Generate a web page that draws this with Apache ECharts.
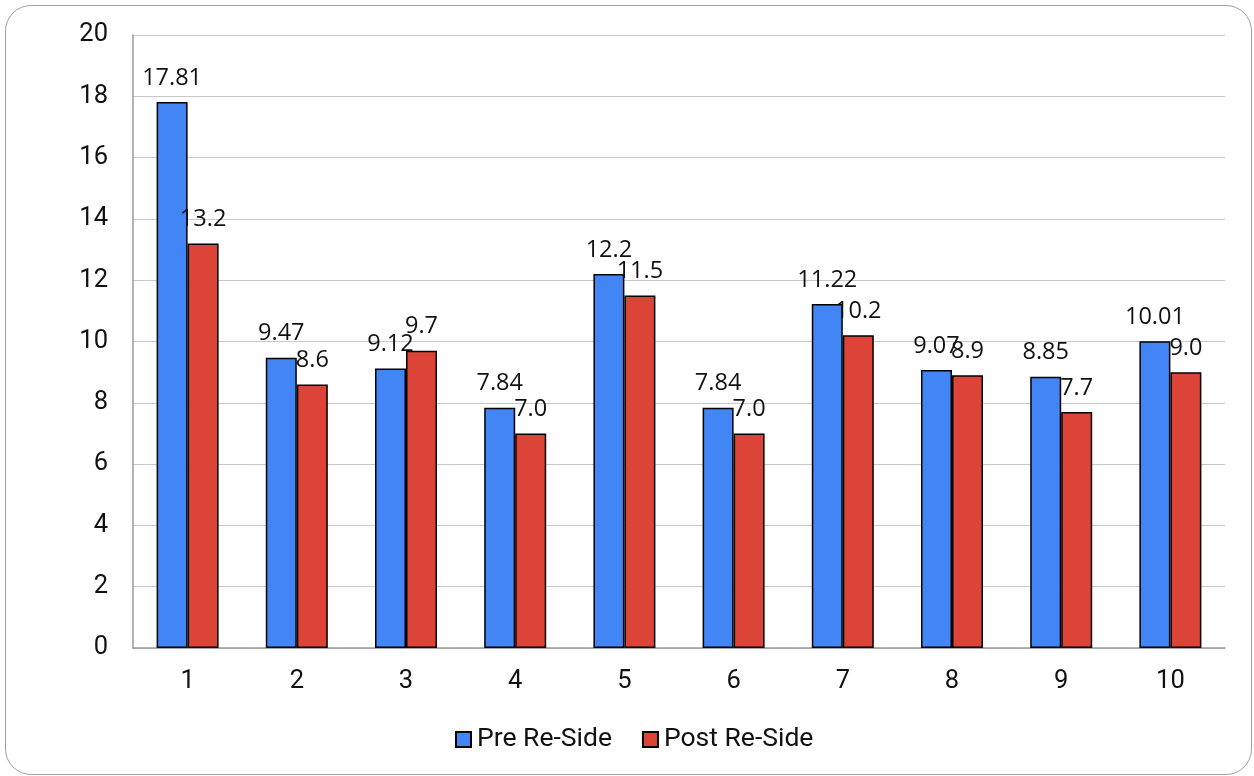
<!DOCTYPE html>
<html>
<head>
<meta charset="utf-8">
<script src="https://cdn.jsdelivr.net/npm/echarts@6/dist/echarts.min.js"></script>
<style>
  html, body { margin: 0; padding: 0; background: #fff; }
  #frame {
    position: absolute; left: 5px; top: 5px; width: 1247px; height: 770px;
    border: 1.5px solid #a0a0a0; border-radius: 26px; box-sizing: border-box;
  }
  #chart { position: absolute; left: 0; top: 0; width: 1254px; height: 776px; }
</style>
</head>
<body>
<div id="frame"></div>
<div id="chart"></div>
<script>
const categories = ['1', '2', '3', '4', '5', '6', '7', '8', '9', '10'];
const preReSide = [17.81, 9.47, 9.12, 7.84, 12.2, 7.84, 11.22, 9.07, 8.85, 10.01];
const postReSide = [13.2, 8.6, 9.7, 7.0, 11.5, 7.0, 10.2, 8.9, 7.7, 9.0];
const seriesNames = ['Pre Re-Side', 'Post Re-Side'];

const chart = echarts.init(document.getElementById('chart'), null, { renderer: 'canvas' });

const labelStyle = {
  show: true,
  position: 'top',
  distance: 12,
  color: '#111',
  fontFamily: '"Open Sans", "Noto Sans", sans-serif',
  fontSize: 23.5
};

chart.setOption({
  animation: false,
  backgroundColor: 'transparent',
  grid: { left: 133, right: 29, top: 35, bottom: 128 },
  legend: {
    bottom: 18,
    left: 450,
    icon: 'rect',
    itemWidth: 15,
    itemHeight: 15,
    itemGap: 30,
    textStyle: { fontFamily: 'Roboto', fontSize: 26.5, color: '#111', padding: [0, 0, 0, 1] },
    data: seriesNames
  },
  xAxis: {
    type: 'category',
    data: categories,
    axisLine: { lineStyle: { color: '#9a9a9a', width: 1.5 } },
    axisTick: { show: false },
    axisLabel: { fontFamily: 'Roboto', fontSize: 25.5, color: '#111', margin: 21 }
  },
  yAxis: {
    type: 'value',
    min: 0,
    max: 20,
    interval: 2,
    axisLine: { show: true, lineStyle: { color: '#9a9a9a', width: 1.5 } },
    axisTick: { show: false },
    splitLine: { lineStyle: { color: '#c8c8c8', width: 1 } },
    axisLabel: { fontFamily: 'Roboto', fontSize: 25.5, color: '#111', margin: 25 }
  },
  series: [
    {
      name: seriesNames[0],
      type: 'bar',
      data: preReSide,
      barWidth: 31,
      barGap: '0%',
      itemStyle: { color: '#4285F4', borderColor: '#000', borderWidth: 1.5 },
      label: Object.assign({}, labelStyle, { formatter: p => String(p.value) })
    },
    {
      name: seriesNames[1],
      type: 'bar',
      data: postReSide,
      barWidth: 31,
      itemStyle: { color: '#DB4437', borderColor: '#000', borderWidth: 1.5 },
      label: Object.assign({}, labelStyle, { formatter: p => p.value.toFixed(1) })
    }
  ]
});
</script>
</body>
</html>
